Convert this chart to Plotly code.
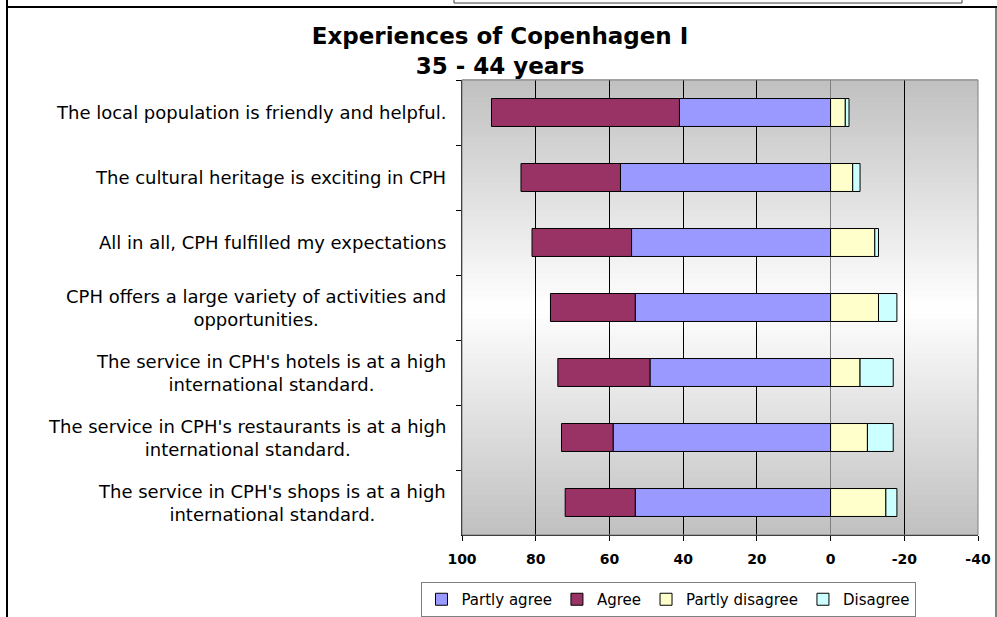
import plotly.graph_objects as go

categories = [
    "The local population is friendly and helpful.",
    "The cultural heritage is exciting in CPH",
    "All in all, CPH fulfilled my expectations",
    "CPH offers a large variety of activities and<br>opportunities.",
    "The service in CPH's hotels is at a high<br>international standard.",
    "The service in CPH's restaurants is at a high<br>international standard.",
    "The service in CPH's shops is at a high<br>international standard.",
]
partly_agree = [41, 57, 54, 53, 49, 59, 53]
agree = [51, 27, 27, 23, 25, 14, 19]
partly_disagree = [4, 6, 12, 13, 8, 10, 15]
disagree = [1, 2, 1, 5, 9, 7, 3]
x_tickvals = [100, 80, 60, 40, 20, 0, -20, -40]
x_ticktext = ["100", "80", "60", "40", "20", "0", "-20", "-40"]

W, H = 997, 617
L, R, T, B = 462, 19, 80, 82
PW = W - L - R
PH = H - T - B


def px2x(p):
    return (p - L) / PW


def py2y(p):
    return (H - B - p) / PH


series = [
    ("Partly agree", partly_agree, "#9999FF", 1),
    ("Agree", agree, "#993366", 1),
    ("Partly disagree", partly_disagree, "#FFFFCC", -1),
    ("Disagree", disagree, "#CCFFFF", -1),
]

fig = go.Figure()
for name, vals, color, sign in series:
    fig.add_trace(go.Bar(
        name=name,
        y=categories,
        x=[sign * v for v in vals],
        orientation="h",
        width=0.43,
        marker=dict(color=color, line=dict(color="#000000", width=1)),
    ))

shapes = []
# vertical gradient background: grey at top/bottom, white in the middle
N = 80
for i in range(N):
    y0 = i / N
    y1 = (i + 1) / N
    mid = (y0 + y1) / 2
    d = abs(mid - 0.5) / 0.5
    c = int(round(255 - (255 - 192) * d))
    col = f"rgb({c},{c},{c})"
    shapes.append(dict(type="rect", xref="x domain", yref="y domain",
                       x0=0, x1=1, y0=y0, y1=y1 + 0.002, layer="below",
                       fillcolor=col, line=dict(width=0)))
# plot border (grey)
shapes.append(dict(type="rect", xref="paper", yref="paper", x0=0, x1=1, y0=0, y1=1,
                   line=dict(color="#808080", width=1), layer="above"))
# outer frame
shapes.append(dict(type="line", xref="paper", yref="paper",
                   x0=px2x(7), x1=px2x(7), y0=py2y(-5), y1=py2y(H + 5),
                   line=dict(color="#000000", width=2)))
shapes.append(dict(type="line", xref="paper", yref="paper",
                   x0=px2x(7), x1=px2x(W + 5), y0=py2y(7), y1=py2y(7),
                   line=dict(color="#000000", width=2)))
shapes.append(dict(type="line", xref="paper", yref="paper",
                   x0=px2x(996), x1=px2x(996), y0=py2y(7), y1=py2y(H + 5),
                   line=dict(color="#000000", width=1)))
# box from the chart above
shapes.append(dict(type="rect", xref="paper", yref="paper",
                   x0=px2x(454), x1=px2x(962), y0=py2y(-10), y1=py2y(3),
                   line=dict(color="#404040", width=1)))

annotations = []
for cat in categories:
    annotations.append(dict(
        text=cat, x=px2x(448), xref="paper", y=cat, yref="y",
        xanchor="right", yanchor="middle", align="center", showarrow=False,
        font=dict(family="DejaVu Sans", size=18, color="#000000"),
    ))

fig.update_layout(
    width=W, height=H,
    autosize=False,
    margin=dict(l=L, r=R, t=T, b=B, pad=0, autoexpand=False),
    paper_bgcolor="#FFFFFF",
    plot_bgcolor="#FFFFFF",
    barmode="relative",
    bargap=0.57,
    showlegend=True,
    title=dict(
        text="Experiences of Copenhagen I<br>35 - 44 years",
        x=500 / W, xref="container", xanchor="center",
        y=1 - 44 / H, yref="container", yanchor="top",
        font=dict(family="DejaVu Sans", size=23, color="#000000", weight="bold"),
    ),
    xaxis=dict(
        range=[100, -40],
        tickvals=x_tickvals, ticktext=x_ticktext,
        ticks="outside", ticklen=5, tickcolor="#000000", tickwidth=1,
        ticklabelstandoff=6,
        showgrid=True, gridcolor="#000000", gridwidth=1,
        zeroline=True, zerolinecolor="#808080", zerolinewidth=1,
        showline=True, linecolor="#000000", linewidth=1,
        tickfont=dict(family="DejaVu Sans", size=14, color="#000000", weight="bold"),
        automargin=False,
        fixedrange=True,
    ),
    yaxis=dict(
        categoryorder="array", categoryarray=categories,
        autorange="reversed",
        tickson="boundaries", ticks="outside", ticklen=5, tickcolor="#000000",
        showticklabels=False, showgrid=False, zeroline=False,
        showline=True, linecolor="#000000", linewidth=1,
        automargin=False,
        fixedrange=True,
    ),
    legend=dict(
        orientation="h",
        x=px2x(668), xanchor="center",
        y=py2y(582), yanchor="top",
        bordercolor="#808080", borderwidth=1, bgcolor="#FFFFFF",
        font=dict(family="DejaVu Sans", size=15, color="#000000"),
        itemwidth=30, traceorder="normal",
    ),
    shapes=shapes,
    annotations=annotations,
)

fig.write_html("out.html", config={"displayModeBar": False},
               post_script="document.body.style.margin='0px';")
